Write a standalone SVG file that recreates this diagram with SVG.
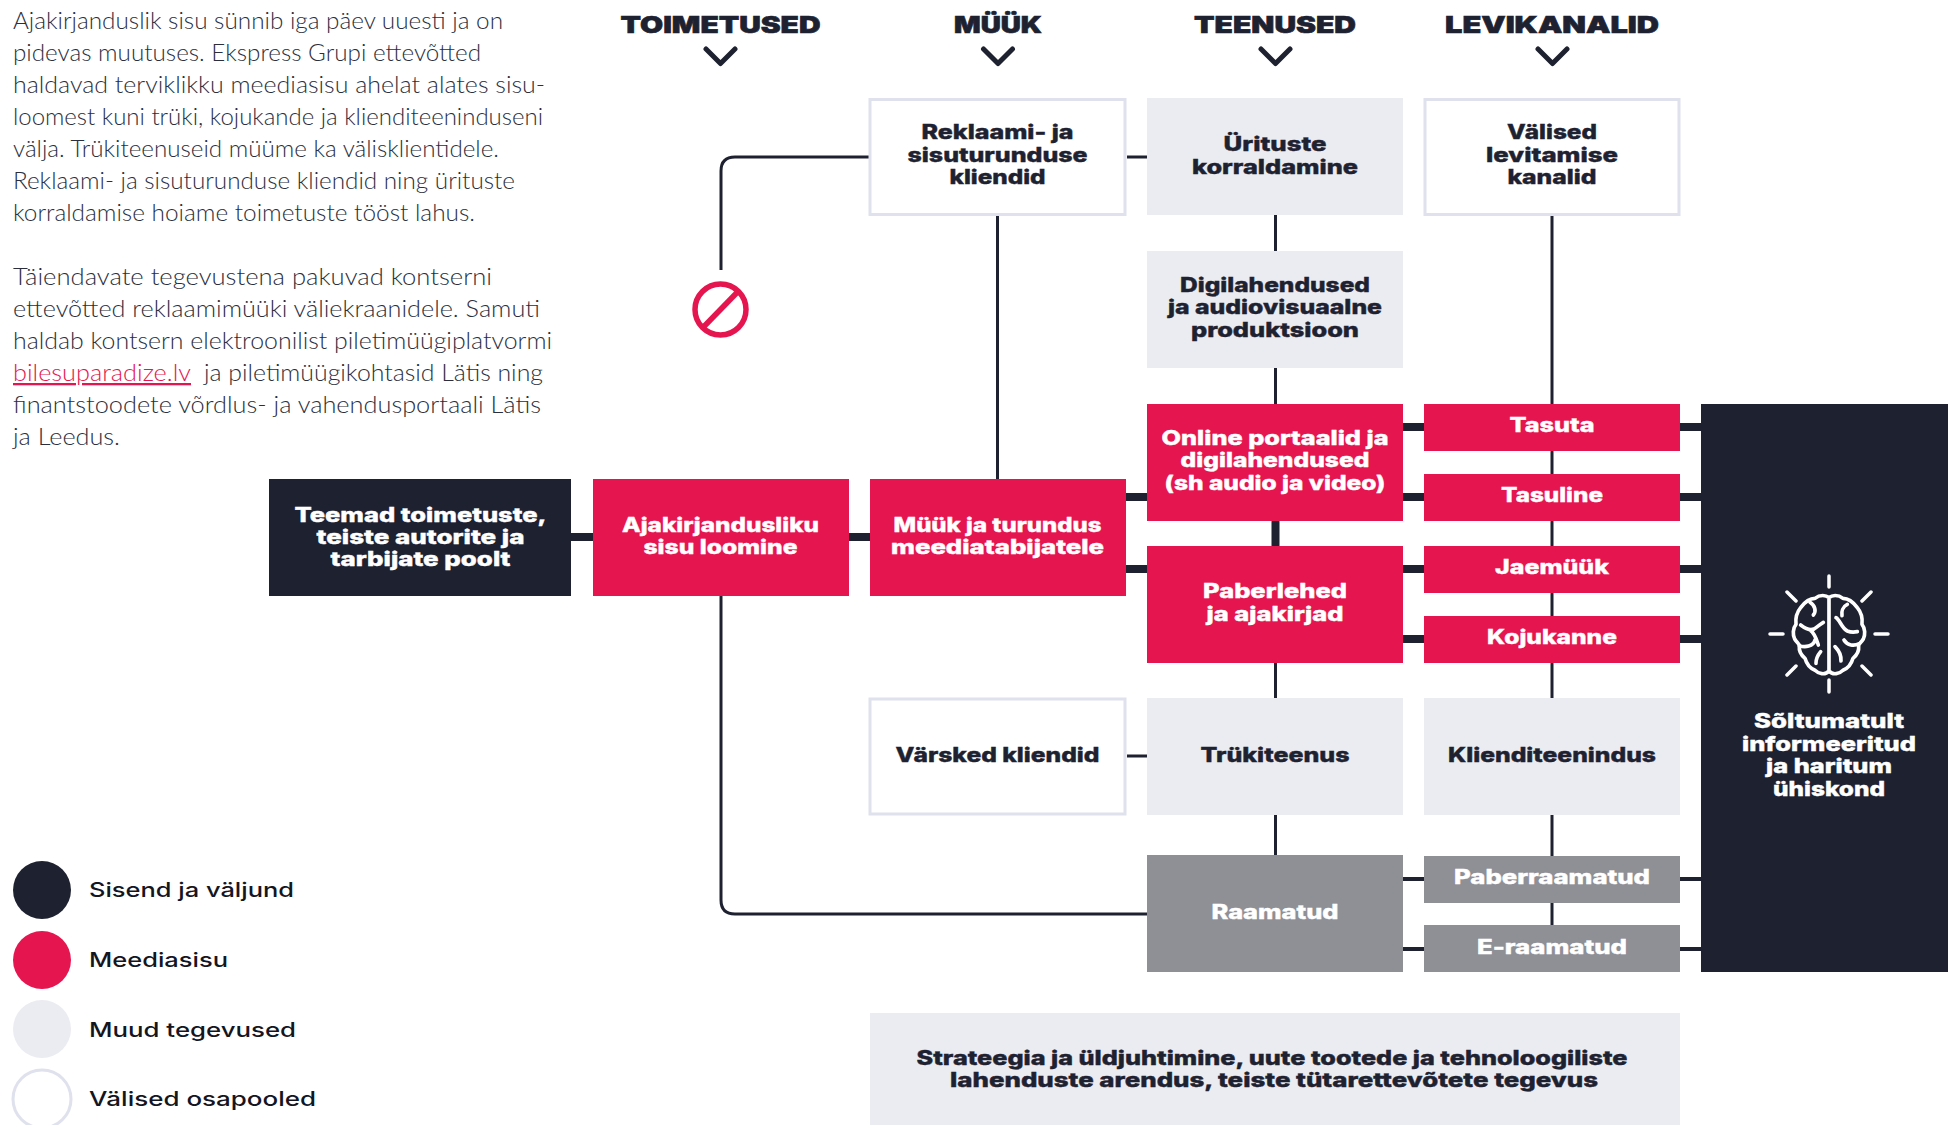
<svg xmlns="http://www.w3.org/2000/svg" width="1948" height="1125" viewBox="0 0 1948 1125">
<style>
text{font-family:"Inter","Liberation Sans",sans-serif}
.l{font-size:20px;font-weight:800;text-anchor:middle;fill:#1e2130;stroke:#1e2130;stroke-width:.4px}
.w{fill:#fff;stroke:#fff}
.h{font-size:23px;font-weight:900;text-anchor:middle;fill:#1e2130;stroke:#1e2130;stroke-width:.6px}
.b{font-family:"Lato","Liberation Sans",sans-serif;font-size:23px;font-weight:300;fill:#2b2f3d}
.a{fill:#e5154f;text-decoration:underline}
.g{font-size:20px;font-weight:500;fill:#14161f}
.red{fill:#e51550}.dark{fill:#1e2130}.light{fill:#ebecf1}.gray{fill:#8f8f96}
.ext{fill:#fff;stroke:#dfe1ec;stroke-width:3}
.t{fill:none;stroke:#1e2130;stroke-width:3}
.k{fill:none;stroke:#1e2130;stroke-width:8}
.m{fill:none;stroke:#1e2130;stroke-width:4}
.ch{fill:none;stroke:#1e2130;stroke-width:5;stroke-linecap:round;stroke-linejoin:round}
.br{fill:none;stroke:#fff;stroke-width:11;stroke-linecap:round;stroke-linejoin:round}
.ray{fill:none;stroke:#fff;stroke-width:3.500;stroke-linecap:round}
</style>
<g id="intro">
<text class="b" x="13" y="29" textLength="490" lengthAdjust="spacingAndGlyphs">Ajakirjanduslik sisu sünnib iga päev uuesti ja on</text>
<text class="b" x="13" y="61" textLength="468" lengthAdjust="spacingAndGlyphs">pidevas muutuses. Ekspress Grupi ettevõtted</text>
<text class="b" x="13" y="93" textLength="532" lengthAdjust="spacingAndGlyphs">haldavad terviklikku meediasisu ahelat alates sisu-</text>
<text class="b" x="13" y="125" textLength="530" lengthAdjust="spacingAndGlyphs">loomest kuni trüki, kojukande ja klienditeeninduseni</text>
<text class="b" x="13" y="157" textLength="486" lengthAdjust="spacingAndGlyphs">välja. Trükiteenuseid müüme ka välisklientidele.</text>
<text class="b" x="13" y="189" textLength="502" lengthAdjust="spacingAndGlyphs">Reklaami- ja sisuturunduse kliendid ning ürituste</text>
<text class="b" x="13" y="221" textLength="462" lengthAdjust="spacingAndGlyphs">korraldamise hoiame toimetuste tööst lahus.</text>
<text class="b" x="13" y="285" textLength="479" lengthAdjust="spacingAndGlyphs">Täiendavate tegevustena pakuvad kontserni</text>
<text class="b" x="13" y="317" textLength="527" lengthAdjust="spacingAndGlyphs">ettevõtted reklaamimüüki väliekraanidele. Samuti</text>
<text class="b" x="13" y="349" textLength="539" lengthAdjust="spacingAndGlyphs">haldab kontsern elektroonilist piletimüügiplatvormi</text>
<text class="b a" x="13" y="381" textLength="178" lengthAdjust="spacingAndGlyphs">bilesuparadize.lv</text>
<text class="b" x="204" y="381" textLength="339" lengthAdjust="spacingAndGlyphs">ja piletimüügikohtasid Lätis ning</text>
<text class="b" x="13" y="413" textLength="528" lengthAdjust="spacingAndGlyphs">finantstoodete võrdlus- ja vahendusportaali Lätis</text>
<text class="b" x="13" y="445" textLength="107" lengthAdjust="spacingAndGlyphs">ja Leedus.</text>
</g>
<g id="headers">
<text class="h" x="720.500" y="33" textLength="200" lengthAdjust="spacingAndGlyphs">TOIMETUSED</text>
<text class="h" x="998" y="33" textLength="88" lengthAdjust="spacingAndGlyphs">MÜÜK</text>
<text class="h" x="1275" y="33" textLength="162" lengthAdjust="spacingAndGlyphs">TEENUSED</text>
<text class="h" x="1552" y="33" textLength="214" lengthAdjust="spacingAndGlyphs">LEVIKANALID</text>
<path class="ch" d="M706 49L720.500 63.500L735 49M983.500 49L998 63.500L1012.500 49M1261 49L1275.500 63.500L1290 49M1538 49L1552.500 63.500L1567 49"/>
</g>
<g id="connectors">
<path class="t" d="M869 157H735Q721 157 721 171V270"/>
<path class="t" d="M721 596V900Q721 914 735 914H1147"/>
<path class="t" d="M997.500 215V479M1127 157H1147M1127 756H1147"/>
<path class="t" d="M1275.500 215V251M1275.500 368V404M1275.500 663V698M1275.500 815V855"/>
<path class="t" d="M1552 215V404M1552 451V474M1552 521V546M1552 593V616M1552 663V698M1552 815V856M1552 903V925"/>
<path class="k" d="M571 537H593M849 537H870M1126 497H1147M1126 569H1147M1275.500 521V546"/>
<path class="k" d="M1403 427H1424M1403 497H1424M1403 569H1424M1403 639H1424M1680 427H1701M1680 497H1701M1680 569H1701M1680 639H1701"/>
<path class="m" d="M1403 879H1424M1403 949H1424M1680 879H1701M1680 949H1701"/>
</g>
<g id="no-entry" fill="none" stroke="#e51550" stroke-width="5.500">
<circle cx="720.500" cy="309.500" r="25.500"/>
<path d="M703 327.500L738 291.500"/>
</g>
<g id="n-teemad"><rect class="dark" x="269" y="479" width="302" height="117"/>
<text class="l w" x="420.500" y="522" textLength="252" lengthAdjust="spacingAndGlyphs">Teemad toimetuste,</text>
<text class="l w" x="420.500" y="544" textLength="208" lengthAdjust="spacingAndGlyphs">teiste autorite ja</text>
<text class="l w" x="420.500" y="566" textLength="180" lengthAdjust="spacingAndGlyphs">tarbijate poolt</text></g>
<g id="n-ajakirjandus"><rect class="red" x="593" y="479" width="256" height="117"/>
<text class="l w" x="720.500" y="532" textLength="197" lengthAdjust="spacingAndGlyphs">Ajakirjandusliku</text>
<text class="l w" x="720.500" y="554" textLength="154" lengthAdjust="spacingAndGlyphs">sisu loomine</text></g>
<g id="n-myyk"><rect class="red" x="870" y="479" width="256" height="117"/>
<text class="l w" x="997.500" y="532" textLength="208" lengthAdjust="spacingAndGlyphs">Müük ja turundus</text>
<text class="l w" x="997.500" y="554" textLength="213" lengthAdjust="spacingAndGlyphs">meediatabijatele</text></g>
<g id="n-reklaam"><rect class="ext" x="870" y="99.500" width="255" height="115"/>
<text class="l" x="997.500" y="139" textLength="152" lengthAdjust="spacingAndGlyphs">Reklaami- ja</text>
<text class="l" x="997.500" y="162" textLength="180" lengthAdjust="spacingAndGlyphs">sisuturunduse</text>
<text class="l" x="997.500" y="184" textLength="96" lengthAdjust="spacingAndGlyphs">kliendid</text></g>
<g id="n-varsked"><rect class="ext" x="870" y="699" width="255" height="115"/>
<text class="l" x="997.500" y="762" textLength="204" lengthAdjust="spacingAndGlyphs">Värsked kliendid</text></g>
<g id="n-yritused"><rect class="light" x="1147" y="98" width="256" height="117"/>
<text class="l" x="1275" y="151" textLength="103" lengthAdjust="spacingAndGlyphs">Ürituste</text>
<text class="l" x="1275" y="174" textLength="166" lengthAdjust="spacingAndGlyphs">korraldamine</text></g>
<g id="n-digi"><rect class="light" x="1147" y="251" width="256" height="117"/>
<text class="l" x="1275" y="292" textLength="190" lengthAdjust="spacingAndGlyphs">Digilahendused</text>
<text class="l" x="1275" y="314" textLength="214" lengthAdjust="spacingAndGlyphs">ja audiovisuaalne</text>
<text class="l" x="1275" y="337" textLength="168" lengthAdjust="spacingAndGlyphs">produktsioon</text></g>
<g id="n-online"><rect class="red" x="1147" y="404" width="256" height="117"/>
<text class="l w" x="1275" y="445" textLength="227" lengthAdjust="spacingAndGlyphs">Online portaalid ja</text>
<text class="l w" x="1275" y="467" textLength="189" lengthAdjust="spacingAndGlyphs">digilahendused</text>
<text class="l w" x="1275" y="490" textLength="221" lengthAdjust="spacingAndGlyphs">(sh audio ja video)</text></g>
<g id="n-paberlehed"><rect class="red" x="1147" y="546" width="256" height="117"/>
<text class="l w" x="1275" y="598" textLength="144" lengthAdjust="spacingAndGlyphs">Paberlehed</text>
<text class="l w" x="1275" y="621" textLength="137" lengthAdjust="spacingAndGlyphs">ja ajakirjad</text></g>
<g id="n-trykiteenus"><rect class="light" x="1147" y="698" width="256" height="117"/>
<text class="l" x="1275" y="762" textLength="149" lengthAdjust="spacingAndGlyphs">Trükiteenus</text></g>
<g id="n-raamatud"><rect class="gray" x="1147" y="855" width="256" height="117"/>
<text class="l w" x="1275" y="919" textLength="127" lengthAdjust="spacingAndGlyphs">Raamatud</text></g>
<g id="n-valised"><rect class="ext" x="1425" y="99.500" width="254" height="115"/>
<text class="l" x="1552" y="139" textLength="90" lengthAdjust="spacingAndGlyphs">Välised</text>
<text class="l" x="1552" y="162" textLength="132" lengthAdjust="spacingAndGlyphs">levitamise</text>
<text class="l" x="1552" y="184" textLength="89" lengthAdjust="spacingAndGlyphs">kanalid</text></g>
<g id="n-tasuta"><rect class="red" x="1424" y="404" width="256" height="47"/>
<text class="l w" x="1552" y="432" textLength="85" lengthAdjust="spacingAndGlyphs">Tasuta</text></g>
<g id="n-tasuline"><rect class="red" x="1424" y="474" width="256" height="47"/>
<text class="l w" x="1552" y="502" textLength="102" lengthAdjust="spacingAndGlyphs">Tasuline</text></g>
<g id="n-jaemyyk"><rect class="red" x="1424" y="546" width="256" height="47"/>
<text class="l w" x="1552" y="574" textLength="114" lengthAdjust="spacingAndGlyphs">Jaemüük</text></g>
<g id="n-kojukanne"><rect class="red" x="1424" y="616" width="256" height="47"/>
<text class="l w" x="1552" y="644" textLength="130" lengthAdjust="spacingAndGlyphs">Kojukanne</text></g>
<g id="n-klienditeenindus"><rect class="light" x="1424" y="698" width="256" height="117"/>
<text class="l" x="1552" y="762" textLength="208" lengthAdjust="spacingAndGlyphs">Klienditeenindus</text></g>
<g id="n-paberraamatud"><rect class="gray" x="1424" y="856" width="256" height="47"/>
<text class="l w" x="1552" y="884" textLength="196" lengthAdjust="spacingAndGlyphs">Paberraamatud</text></g>
<g id="n-eraamatud"><rect class="gray" x="1424" y="925" width="256" height="47"/>
<text class="l w" x="1552" y="954" textLength="150" lengthAdjust="spacingAndGlyphs">E-raamatud</text></g>
<g id="n-strateegia"><rect class="light" x="870" y="1013" width="810" height="112"/>
<text class="l" x="1272" y="1065" textLength="711" lengthAdjust="spacingAndGlyphs">Strateegia ja üldjuhtimine, uute tootede ja tehnoloogiliste</text>
<text class="l" x="1274" y="1087" textLength="648" lengthAdjust="spacingAndGlyphs">lahenduste arendus, teiste tütarettevõtete tegevus</text></g>
<g id="n-yhiskond"><rect class="dark" x="1701" y="404" width="247" height="568"/>
<path class="ray" d="M1829 576V587M1829 680V692M1770 634H1783M1875 634H1888M1787 592L1796 601M1871 592L1862 601M1796 666L1787 675M1862 666L1871 675"/>
<g transform="translate(1760 565) scale(.3333)">
<path class="br" d="M207 98C198 90 180 88 165 100C150 100 135 110 122 128C112 140 106 160 108 178C98 190 98 210 104 222C110 232 118 236 118 242C116 262 125 272 135 280C140 298 150 310 165 316C175 326 195 332 207 318C219 332 239 326 249 316C264 310 274 298 279 280C289 272 298 262 296 242C296 236 304 232 310 222C316 210 316 190 306 178C308 160 302 140 292 128C279 110 264 100 249 100C234 88 216 90 207 98V318"/>
<path class="br" d="M150 112C165 122 170 138 160 150M122 180C135 190 150 198 162 192C172 186 180 178 190 172M150 195C165 205 170 225 175 240M118 242C135 248 160 245 165 225M182 260C172 272 168 284 168 295M262 118C248 125 244 140 246 152M228 158C240 165 245 190 262 198C272 202 282 202 292 200M252 225C262 242 282 244 298 236M225 245C238 258 244 272 243 288"/>
</g>
<text class="l w" x="1829" y="728" textLength="150" lengthAdjust="spacingAndGlyphs">Sõltumatult</text>
<text class="l w" x="1829" y="751" textLength="174" lengthAdjust="spacingAndGlyphs">informeeritud</text>
<text class="l w" x="1829" y="773" textLength="126" lengthAdjust="spacingAndGlyphs">ja haritum</text>
<text class="l w" x="1829" y="796" textLength="112" lengthAdjust="spacingAndGlyphs">ühiskond</text></g>
<g id="legend">
<circle class="dark" cx="42" cy="890" r="29"/>
<text class="g" x="89" y="897" textLength="205" lengthAdjust="spacingAndGlyphs">Sisend ja väljund</text>
<circle class="red" cx="42" cy="960" r="29"/>
<text class="g" x="89" y="967" textLength="139" lengthAdjust="spacingAndGlyphs">Meediasisu</text>
<circle class="light" cx="42" cy="1029" r="29"/>
<text class="g" x="89" y="1037" textLength="207" lengthAdjust="spacingAndGlyphs">Muud tegevused</text>
<circle class="ext" cx="42" cy="1099" r="29"/>
<text class="g" x="89" y="1106" textLength="227" lengthAdjust="spacingAndGlyphs">Välised osapooled</text>
</g>
</svg>
